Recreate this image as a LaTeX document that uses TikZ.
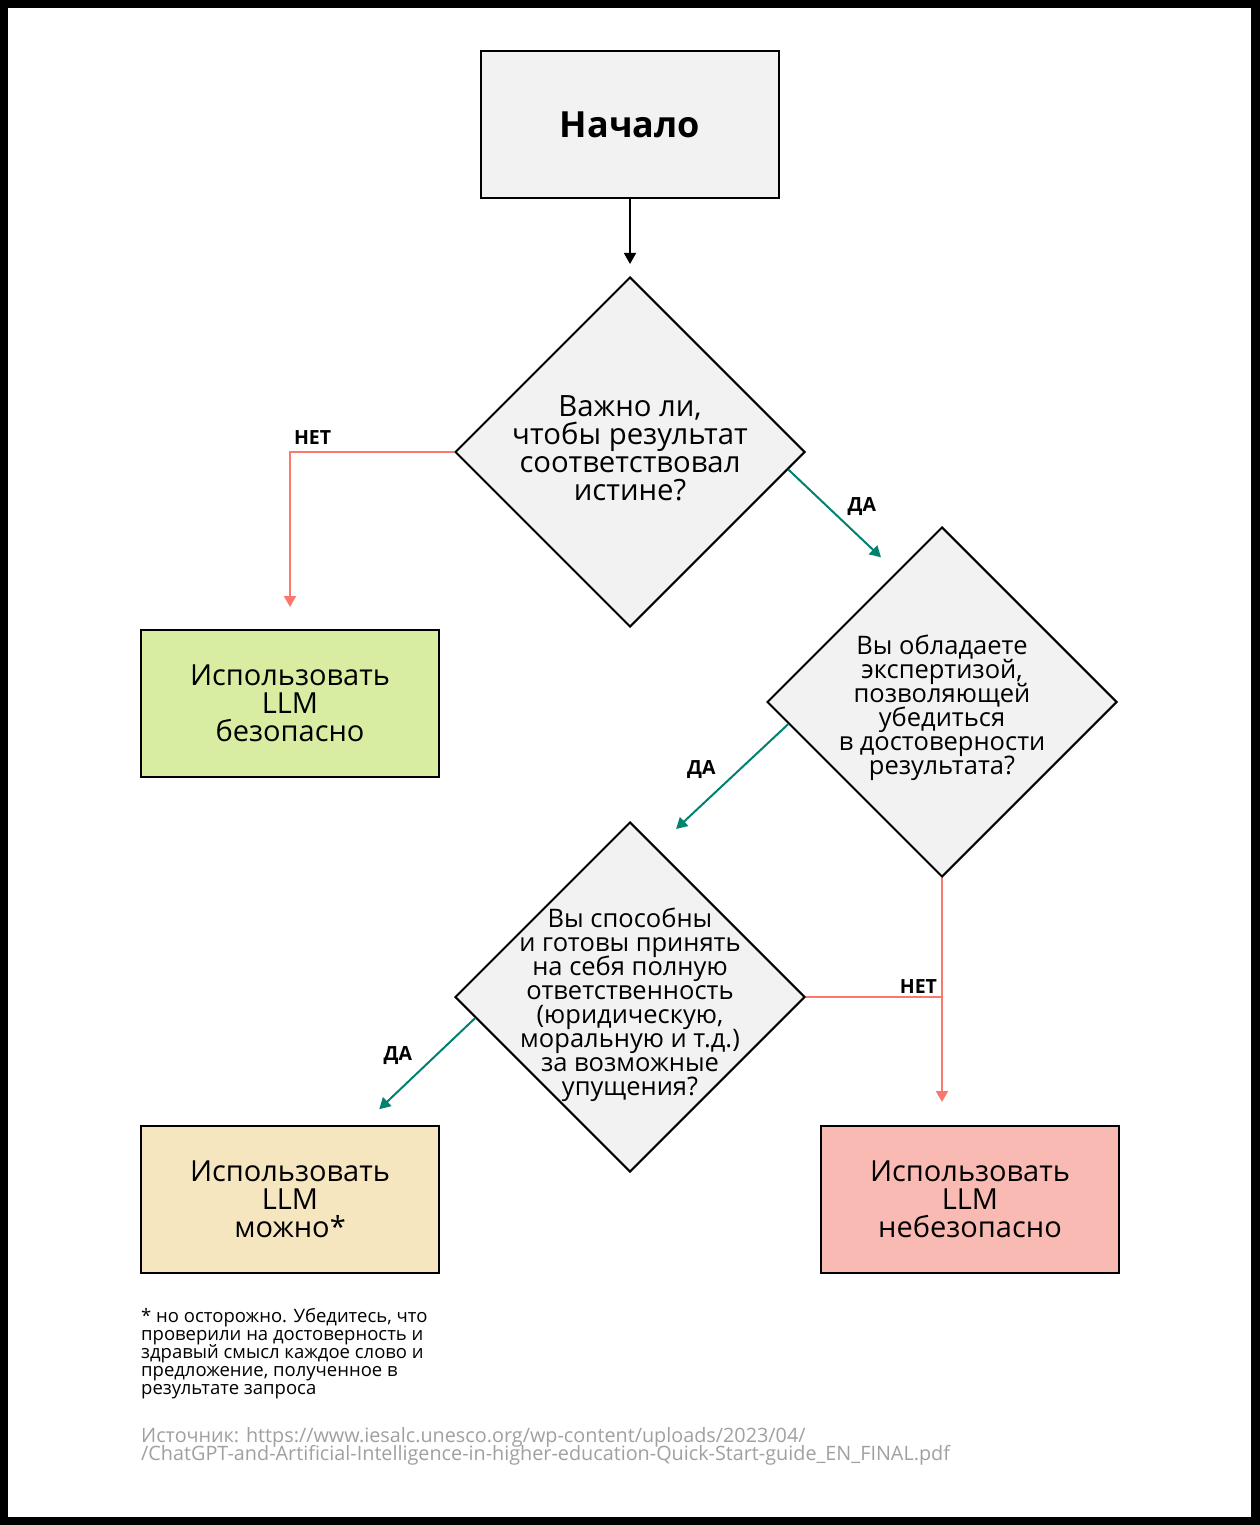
\documentclass[tikz,border=0pt]{standalone}
\usepackage{fontspec}
\setmainfont{Open Sans}
\usetikzlibrary{shapes.geometric,calc,arrows.meta,positioning}
\definecolor{boxgray}{HTML}{F2F2F2}
\definecolor{safegreen}{HTML}{D9EDA2}
\definecolor{maybeyellow}{HTML}{F5E6C0}
\definecolor{unsafered}{HTML}{F9BAB3}
\definecolor{nored}{HTML}{FA786C}
\definecolor{yesteal}{HTML}{00826F}
\definecolor{srcgray}{HTML}{A0A0A0}
\newcommand\tightlines{\lineskiplimit=-100pt\relax}
\tikzset{
  box/.style={draw,line width=2pt,minimum width=298pt,minimum height=147pt,align=center,
    font=\fontsize{29}{28}\selectfont\tightlines},
  question/.style={draw,line width=2pt,fill=boxgray,diamond,minimum width=350pt,minimum height=350pt,inner sep=0pt},
  qbig/.style={align=center,font=\fontsize{29.3}{28}\selectfont\tightlines},
  qsmall/.style={align=center,font=\fontsize{25.5}{24}\selectfont\tightlines},
  lbl/.style={text=black,font=\fontsize{19.5}{20}\selectfont\bfseries,inner sep=3pt},
  yes/.style={->,draw=yesteal,line width=2pt},
  no/.style={->,draw=nored,line width=2pt},
}
\begin{document}
\begin{tikzpicture}[x=1pt,y=-1pt,>={Triangle[length=11pt,width=12pt]}]
    % frame
    \fill[black] (0,0) rectangle (1260,1525);
    \fill[white] (8,8) rectangle (1251,1517);
    % boxes
    \node[box,fill=boxgray,font=\fontsize{36}{38}\selectfont\bfseries] (start) at (630,124.5) {Начало};
    \node[box,fill=safegreen] (safe) at (290,703.5) {Использовать\\LLM\\безопасно};
    \node[box,fill=maybeyellow] (maybe) at (290,1199.5) {Использовать\\LLM\\можно*};
    \node[box,fill=unsafered] (unsafe) at (970,1199.5) {Использовать\\LLM\\небезопасно};
    % questions
    \node[question] (q1) at (630,452) {};
    \node[question] (q2) at (942,702) {};
    \node[question] (q3) at (630,997) {};
    \node[qbig] (q1t) at (630,448) {Важно ли,\\чтобы результат\\соответствовал\\истине?};
    \node[qsmall] (q2t) at (942,708) {Вы обладаете\\экспертизой,\\позволяющей\\убедиться\\в достоверности\\результата?};
    \node[qsmall] (q3t) at (630,1005) {Вы способны\\и готовы принять\\на себя полную\\ответственность\\(юридическую,\\моральную и т.д.)\\за возможные\\упущения?};
    % connectors
    \draw[->,line width=1.6pt,shorten >=12pt] (start) -- (q1);
    \draw[no,shorten >=22pt] (q1.west) -| node[lbl,pos=0.5,above right=4pt and 0pt] {НЕТ} (safe.north);
    \draw[yes,shorten >=21pt] ($(q1.east)!0.1!(q1.south)$) -- node[lbl,above right=2pt] {ДА} ($(q2.north)!0.26!(q2.west)$);
    \draw[yes,shorten >=27pt] ($(q2.west)!0.126!(q2.south)$) -- node[lbl,above left=4pt] {ДА} ($(q3.north)!0.15!(q3.east)$);
    \draw[yes,shorten >=23pt] ($(q3.west)!0.12!(q3.south)$) -- node[lbl,above left=4pt] {ДА} ($(maybe.north west)!0.742!(maybe.north east)$);
    \draw[no,shorten >=23pt] (q2.south) -- (q2.south |- unsafe.north);
    \draw[nored,line width=2pt] (q3.east) -- node[lbl,pos=1,above left=0pt and 1pt] {НЕТ} (q3.east -| q2.south);
    % notes
    \node[anchor=north west,align=left,inner sep=0pt,font=\fontsize{18.5}{18}\selectfont\tightlines] (note) at (141,1308)
      {* но осторожно. Убедитесь, что\\проверили на достоверность и\\здравый смысл каждое слово и\\предложение, полученное в\\результате запроса};
    \node[anchor=north west,align=left,inner sep=0pt,text=srcgray,font=\fontsize{19.8}{18}\selectfont\tightlines] (source) at (141,1427)
      {Источник: https://www.iesalc.unesco.org/wp-content/uploads/2023/04/\\/ChatGPT-and-Artificial-Intelligence-in-higher-education-Quick-Start-guide\_EN\_FINAL.pdf};
\end{tikzpicture}
\end{document}
